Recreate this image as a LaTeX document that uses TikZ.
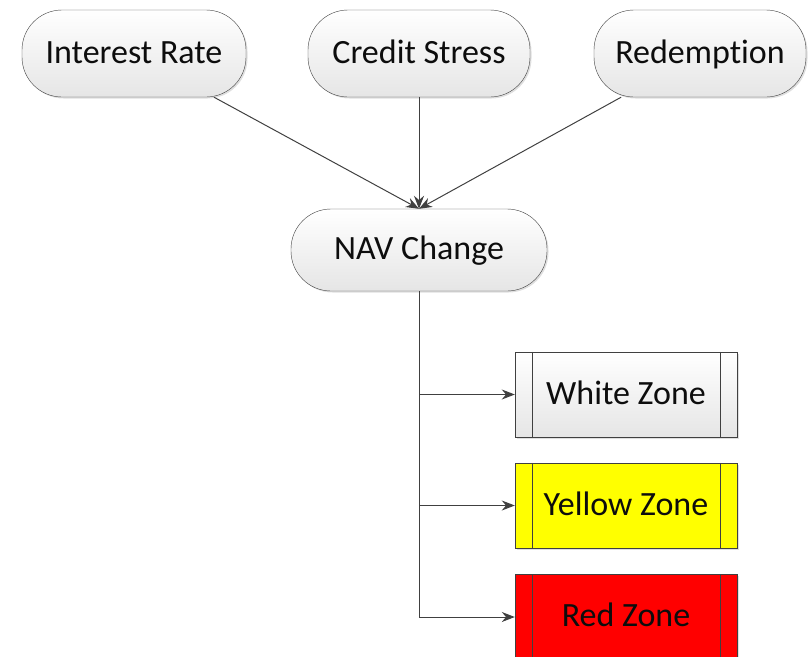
\documentclass[tikz,border=0pt]{standalone}
\usepackage{fontspec}
\setmainfont{Carlito}[Ligatures=NoCommon]
\usetikzlibrary{arrows.meta,shadows}

\definecolor{edgegray}{HTML}{404040}
\definecolor{zoneyellow}{HTML}{FFFF00}
\definecolor{zonered}{HTML}{FF0000}

\begin{document}
\begin{tikzpicture}[x=1pt,y=-1pt]

      \useasboundingbox (0,0) rectangle (808,656);

      \begin{scope}[every node/.style={draw=edgegray,rectangle,rounded corners=40pt,
          top color=white,bottom color=black!10,minimum height=87pt,inner sep=0pt,
          font=\fontsize{34}{40}\selectfont,text=black!95,text height=24pt,text depth=5pt,
          drop shadow={shadow xshift=1.5pt,shadow yshift=-1.5pt,opacity=.25}}]
        \node[minimum width=224pt] (rate) at (134,53.5) {Interest Rate};
        \node[minimum width=222pt] (stress) at (419,53.5) {Credit Stress};
        \node[minimum width=212pt] (redemp) at (700,53.5) {Redemption};
        \node[minimum width=256pt,minimum height=82pt] (nav) at (419,250) {NAV Change};
      \end{scope}

      \begin{scope}[every node/.style={draw=edgegray,rectangle,minimum width=222pt,
          minimum height=85pt,inner sep=0pt,font=\fontsize{34}{40}\selectfont,
          text=black!95,text height=24pt,text depth=5pt,
          drop shadow={shadow xshift=1.5pt,shadow yshift=-1.5pt,opacity=.25}}]
        \node[top color=white,bottom color=black!10] (white) at (626,394.5) {White Zone};
        \node[fill=zoneyellow] (yellow) at (626,505.5) {Yellow Zone};
        \node[fill=zonered] (red) at (626,617) {Red Zone};
      \end{scope}

      \foreach \zone in {white,yellow,red} {
        \draw[edgegray] ([xshift=17pt]\zone.north west) -- ([xshift=17pt]\zone.south west);
        \draw[edgegray] ([xshift=-17pt]\zone.north east) -- ([xshift=-17pt]\zone.south east);
      }

      \begin{scope}[every path/.style={draw=edgegray,line width=1pt,
          -{Stealth[length=13pt,width=10pt]}}]
        \path (rate) -- (nav.north);
        \path (stress) -- (nav.north);
        \path (redemp) -- (nav.north);

        \path (nav.south) |- (white);
        \path (nav.south) |- (yellow);
        \path (nav.south) |- (red);
      \end{scope}

    \end{tikzpicture}
\end{document}
